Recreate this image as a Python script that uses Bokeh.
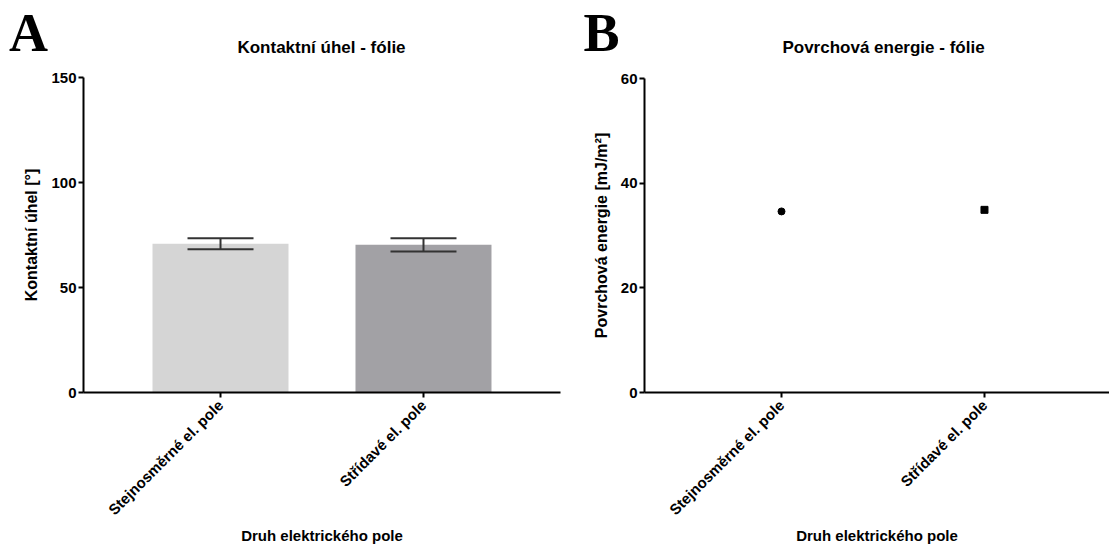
import math
from bokeh.plotting import figure
from bokeh.models import Range1d, FixedTicker, Whisker, TeeHead, ColumnDataSource
from bokeh.core.properties import value
from bokeh.layouts import row, column
from bokeh.embed import file_html
from bokeh.resources import INLINE

# ---- data ----
categories = ["Stejnosměrné el. pole", "Střídavé el. pole"]
angle_mean = [70.8, 70.3]
angle_sd = [2.6, 3.2]
bar_colors = ["#d5d5d5", "#a2a1a5"]
energy = [34.6, 34.9]
energy_markers = ["circle", "square"]
angle_ticks = [0, 50, 100, 150]
energy_ticks = [0, 20, 40, 60]
x_title = "Druh elektrického pole"

x_pos = [i + 1 for i in range(len(categories))]
FONT = "Liberation Sans"
HEADER_H = 66


def header(width, letter, letter_x, title, title_x):
    h = figure(width=width, height=HEADER_H, output_backend="svg", toolbar_location=None,
               title_location=None,
               x_range=Range1d(0, width), y_range=Range1d(0, HEADER_H),
               x_axis_location=None, y_axis_location=None,
               min_border_left=0, min_border_right=0, min_border_top=0, min_border_bottom=0)
    h.frame_align = False
    h.grid.visible = False
    h.outline_line_color = None
    h.text(x=[letter_x], y=[HEADER_H - 32], text=[letter], text_align="center",
           text_baseline="middle", text_font=value("Liberation Serif"),
           text_font_style="bold", text_font_size="54px", text_color="black")
    h.text(x=[title_x], y=[HEADER_H - 47], text=[title], text_align="center",
           text_baseline="middle", text_font=value(FONT),
           text_font_style="bold", text_font_size="17px", text_color="black")
    return h


def style(p, yticks, ylabel):
    p.frame_align = False
    p.xgrid.visible = False
    p.ygrid.visible = False
    p.outline_line_color = None
    for ax in (p.xaxis[0], p.yaxis[0]):
        ax.axis_line_width = 2
        ax.axis_line_color = "black"
        ax.major_tick_line_width = 2
        ax.major_tick_line_color = "black"
        ax.major_tick_out = 5
        ax.major_tick_in = 0
        ax.minor_tick_out = 0
        ax.minor_tick_in = 0
        ax.major_label_text_font = FONT
        ax.major_label_text_font_style = "bold"
        ax.major_label_text_font_size = "15px"
        ax.major_label_text_color = "black"
        ax.axis_label_text_font = FONT
        ax.axis_label_text_font_style = "bold"
        ax.axis_label_text_color = "black"
    p.xaxis.ticker = FixedTicker(ticks=x_pos)
    p.xaxis.major_label_overrides = dict(zip(x_pos, categories))
    p.xaxis.major_label_orientation = math.pi / 4
    p.xaxis.major_label_standoff = 5
    p.xaxis.axis_label = x_title
    p.xaxis.axis_label_text_font_size = "15px"
    p.xaxis.axis_label_standoff = 0
    p.yaxis.ticker = FixedTicker(ticks=yticks)
    p.yaxis.axis_label = ylabel
    p.yaxis.axis_label_text_font_size = "16px"
    p.yaxis.major_label_standoff = 2
    p.yaxis.axis_label_standoff = 8


# ---- panel A ----
h1 = header(562, "A", 28, "Kontaktní úhel - fólie", 321)
p1 = figure(width=562, height=547 - HEADER_H, output_backend="svg", toolbar_location=None,
            x_range=Range1d(0.325, 2.675), y_range=Range1d(0, 150),
            min_border_left=83, min_border_right=2, min_border_top=77 - HEADER_H,
            min_border_bottom=155)
src1 = ColumnDataSource(dict(x=x_pos, top=angle_mean, color=bar_colors,
                             upper=[m + s for m, s in zip(angle_mean, angle_sd)],
                             lower=[m - s for m, s in zip(angle_mean, angle_sd)]))
p1.vbar(x="x", top="top", width=0.67, fill_color="color", line_color=None, source=src1)
p1.add_layout(Whisker(source=src1, base="x", upper="upper", lower="lower", level="overlay",
                      line_color="#333333", line_width=2,
                      upper_head=TeeHead(size=66, line_color="#333333", line_width=2),
                      lower_head=TeeHead(size=66, line_color="#333333", line_width=2)))
style(p1, angle_ticks, "Kontaktní úhel [°]")

# ---- panel B ----
h2 = header(547, "B", 39, "Povrchová energie - fólie", 321)
p2 = figure(width=547, height=547 - HEADER_H, output_backend="svg", toolbar_location=None,
            x_range=Range1d(0.325, 2.616), y_range=Range1d(0, 60),
            min_border_left=82, min_border_right=0, min_border_top=78 - HEADER_H,
            min_border_bottom=153)
for xv, ev, mk in zip(x_pos, energy, energy_markers):
    p2.scatter(x=[xv], y=[ev], marker=mk, size=7, fill_color="black", line_color="black")
style(p2, energy_ticks, "Povrchová energie [mJ/m²]")

layout = row(column(h1, p1), column(h2, p2))
open("out.html", "w").write(file_html(layout, INLINE))
